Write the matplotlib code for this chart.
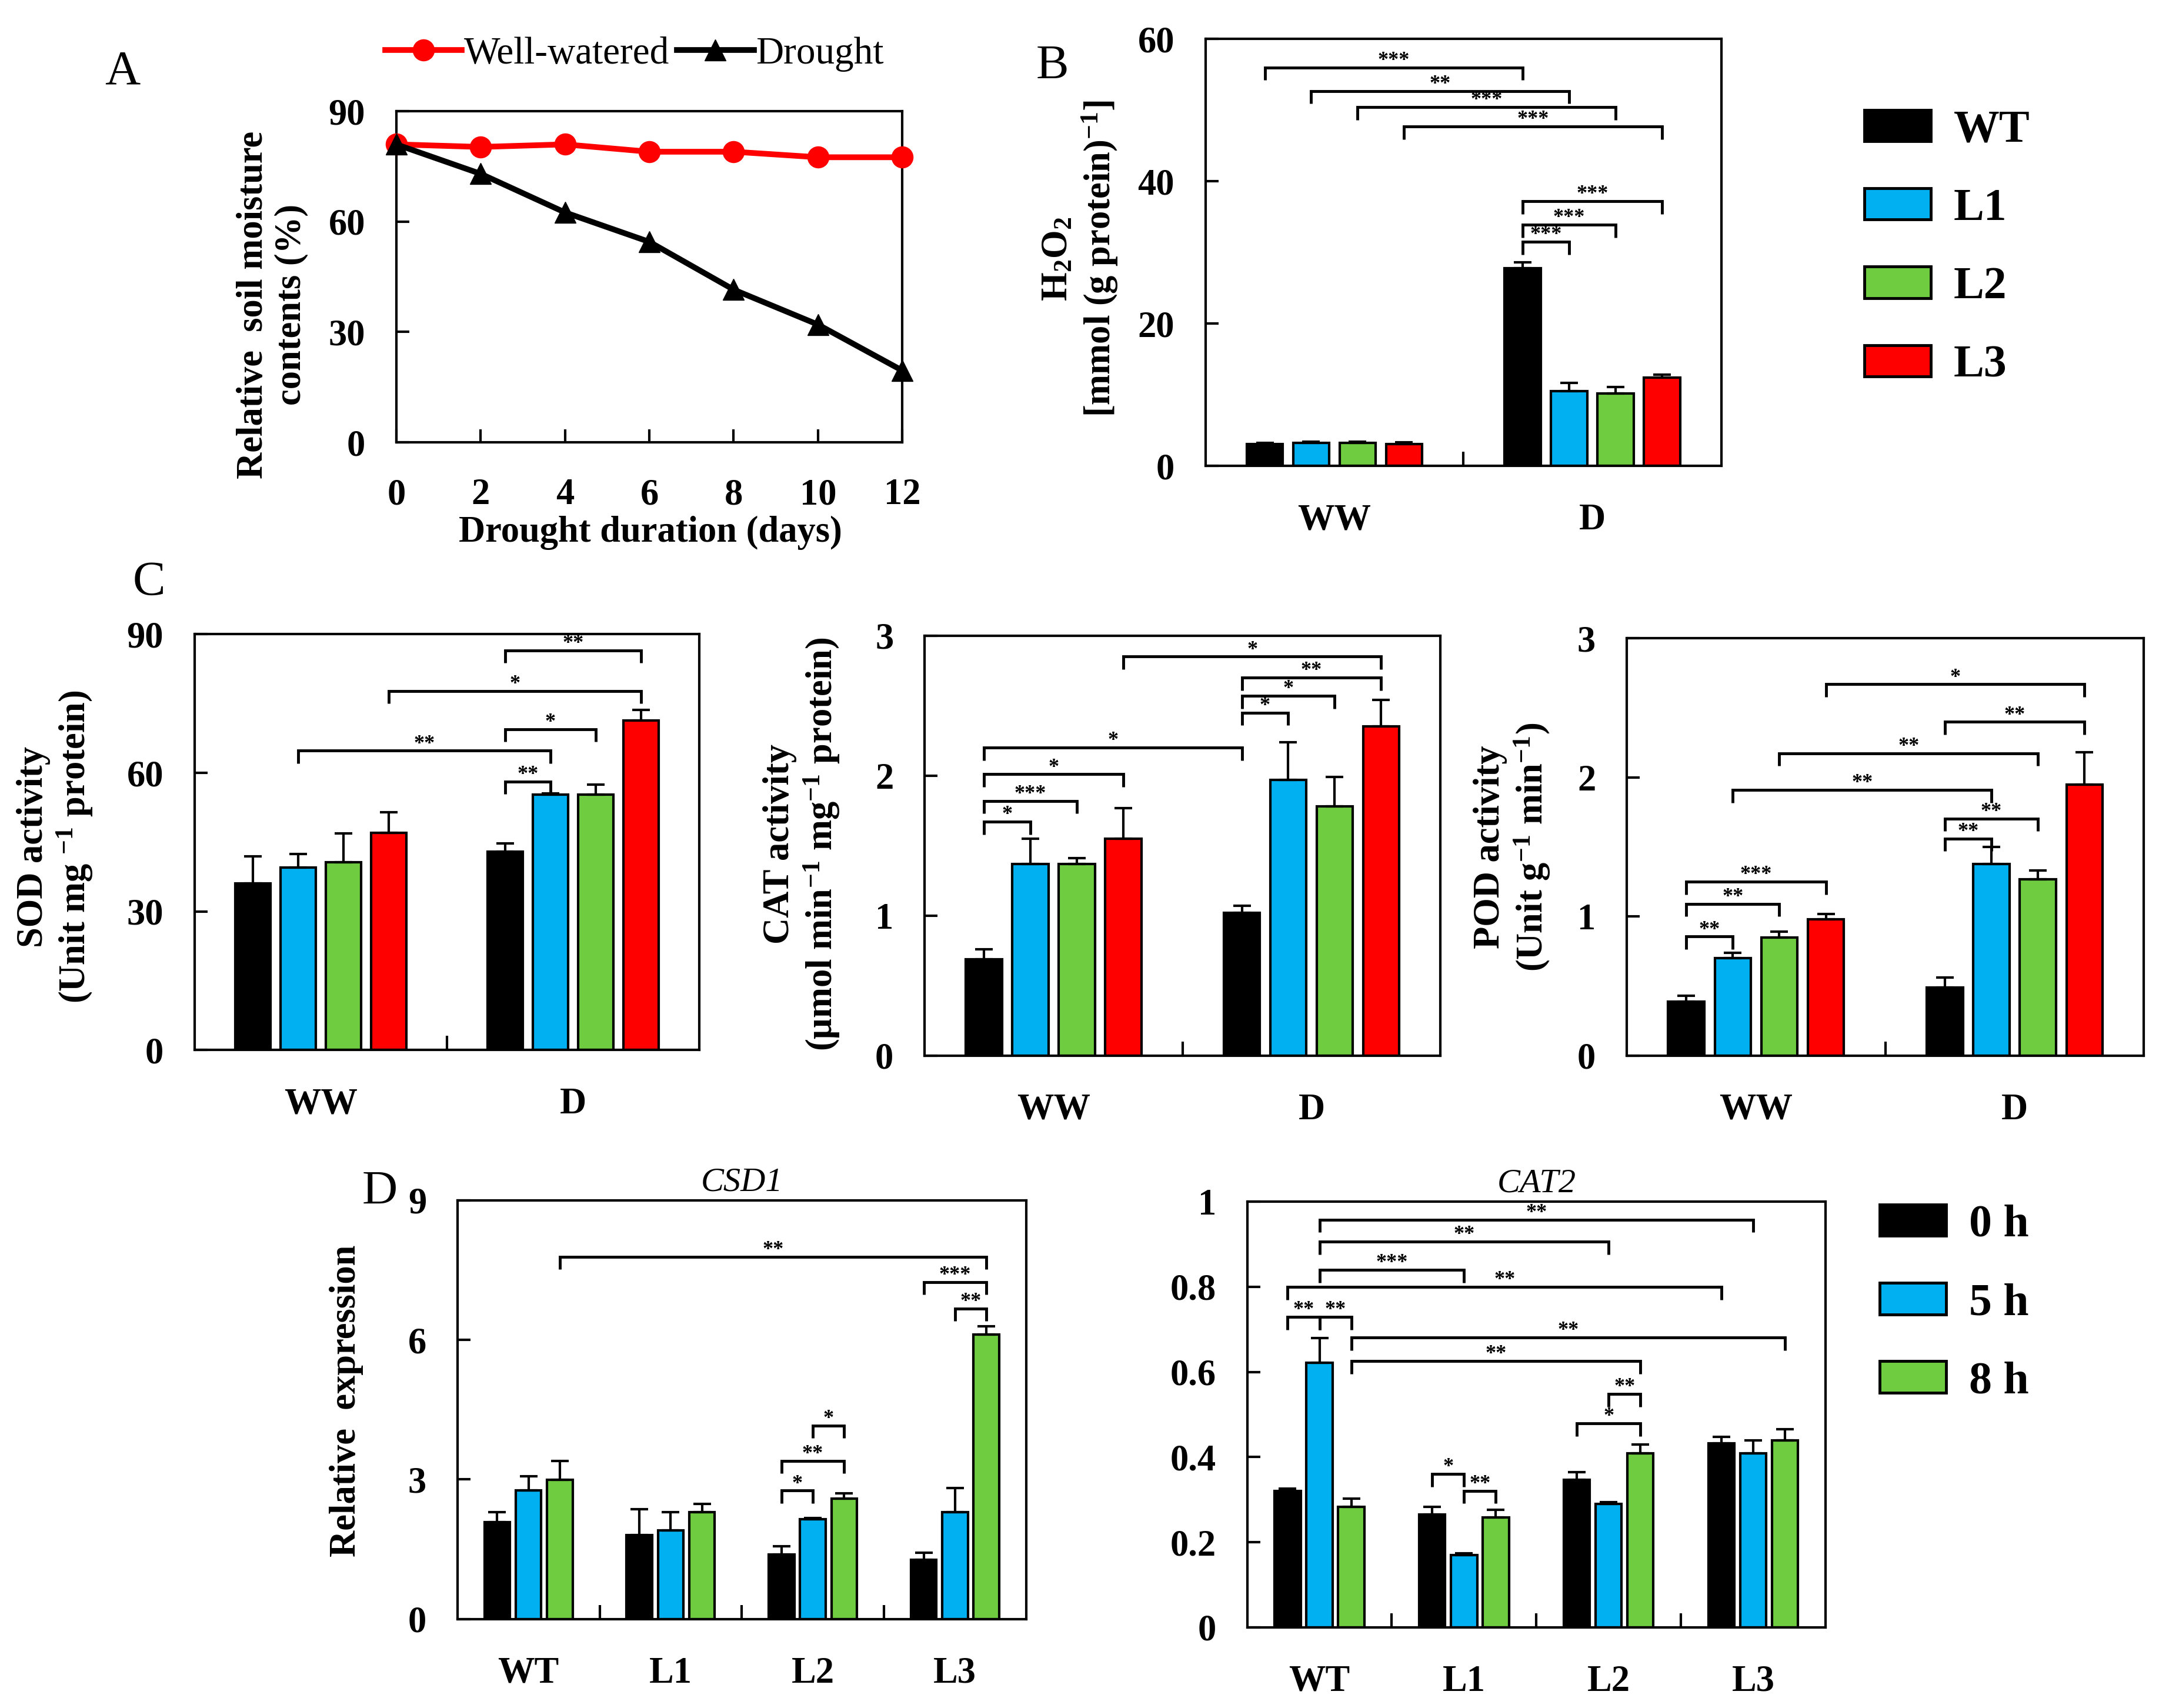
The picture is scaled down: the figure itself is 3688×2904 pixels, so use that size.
import numpy as np
import matplotlib
matplotlib.use('Agg')
import matplotlib.pyplot as plt
from matplotlib.patches import Patch
from matplotlib.ticker import FuncFormatter

plt.rcParams['font.family'] = ['Liberation Serif', 'DejaVu Serif']
plt.rcParams['font.weight'] = 'bold'
plt.rcParams['mathtext.fontset'] = 'custom'
plt.rcParams['mathtext.rm'] = 'Liberation Serif:bold'
plt.rcParams['mathtext.it'] = 'Liberation Serif:italic:bold'
plt.rcParams['mathtext.bf'] = 'Liberation Serif:bold'
plt.rcParams['mathtext.default'] = 'rm'
plt.rcParams['axes.linewidth'] = 3

# ---------------- data ----------------
days = [0, 2, 4, 6, 8, 10, 12]
rsmc_well_watered = [81.0, 80.3, 81.0, 79.0, 79.0, 77.5, 77.5]
rsmc_drought = [81.0, 73.0, 62.5, 54.5, 41.5, 32.0, 19.5]

treatments = ['WW', 'D']
lines = ['WT', 'L1', 'L2', 'L3']
line_colors = ['#000000', '#00B0F0', '#6FCC40', '#FF0000']

h2o2_mean = [[3.1, 3.2, 3.2, 3.1], [27.8, 10.5, 10.2, 12.4]]
h2o2_err = [[0.15, 0.2, 0.2, 0.2], [0.8, 1.2, 0.9, 0.4]]
sod_mean = [[36.1, 39.5, 40.7, 47.0], [43.0, 55.3, 55.3, 71.3]]
sod_err = [[5.8, 2.9, 6.2, 4.5], [1.7, 0.3, 2.1, 2.3]]
cat_mean = [[0.69, 1.37, 1.37, 1.55], [1.02, 1.97, 1.78, 2.35]]
cat_err = [[0.07, 0.18, 0.04, 0.22], [0.05, 0.27, 0.21, 0.19]]
pod_mean = [[0.39, 0.70, 0.85, 0.98], [0.49, 1.38, 1.27, 1.95]]
pod_err = [[0.04, 0.04, 0.04, 0.04], [0.07, 0.12, 0.06, 0.23]]

genotypes = ['WT', 'L1', 'L2', 'L3']
times = ['0 h', '5 h', '8 h']
time_colors = ['#000000', '#00B0F0', '#6FCC40']
csd1_mean = [[2.08, 2.77, 2.99], [1.80, 1.90, 2.30], [1.39, 2.14, 2.59], [1.27, 2.30, 6.11]]
csd1_err = [[0.22, 0.30, 0.41], [0.56, 0.40, 0.17], [0.17, 0.03, 0.11], [0.16, 0.52, 0.18]]
cat2_mean = [[0.321, 0.622, 0.283], [0.265, 0.170, 0.258], [0.346, 0.290, 0.409], [0.433, 0.409, 0.439]]
cat2_err = [[0.005, 0.057, 0.020], [0.018, 0.004, 0.018], [0.018, 0.004, 0.020], [0.014, 0.030, 0.027]]

# significance brackets: (bar_i, bar_j, height, label); bars numbered group-major
h2o2_sig = [(0, 4, 56.0, '***'), (1, 5, 52.7, '**'), (2, 6, 50.4, '***'), (3, 7, 47.7, '***'),
            (4, 5, 31.5, '***'), (4, 6, 33.9, '***'), (4, 7, 37.2, '***')]
sod_sig = [(4, 5, 58.1, '**'), (1, 5, 64.8, '**'), (4, 6, 69.4, '*'), (3, 7, 77.7, '*'), (4, 7, 86.5, '**')]
cat_sig = [(0, 1, 1.67, '*'), (0, 2, 1.82, '***'), (0, 3, 2.01, '*'), (0, 4, 2.20, '*'),
           (4, 5, 2.45, '*'), (4, 6, 2.57, '*'), (4, 7, 2.70, '**'), (3, 7, 2.85, '*')]
pod_sig = [(0, 1, 0.856, '**'), (0, 2, 1.09, '**'), (0, 3, 1.25, '***'), (4, 5, 1.56, '**'),
           (4, 6, 1.705, '**'), (1, 5, 1.91, '**'), (2, 6, 2.175, '**'), (4, 7, 2.40, '**'), (3, 7, 2.67, '*')]
csd1_sig = [(6, 7, 2.76, '*'), (6, 8, 3.40, '**'), (7, 8, 4.16, '*'), (10, 11, 6.67, '**'),
            (9, 11, 7.24, '***'), (2, 11, 7.79, '**')]
cat2_sig = [(0, 1, 0.729, '**'), (1, 2, 0.729, '**'), (0, 9, 0.80, '**'), (1, 4, 0.84, '***'),
            (1, 7, 0.906, '**'), (1, 10, 0.958, '**'), (2, 8, 0.626, '**'), (2, 11, 0.681, '**'),
            (3, 4, 0.36, '*'), (4, 5, 0.321, '**'), (6, 8, 0.479, '*'), (7, 8, 0.548, '**')]

# ---------------- layout helpers ----------------
W, H = 1560.0, 1228.0
fig = plt.figure(figsize=(36.88, 29.04), dpi=100)
fig.patch.set_facecolor('white')


def rect(x0, y0, x1, y1):
    return [x0 / W, 1 - y1 / H, (x1 - x0) / W, (y1 - y0) / H]


def fx(x):
    return x / W


def fy(y):
    return 1 - y / H


TICK_FS = 45
STAR_FS = 26


def style_y(ax, ticks, fmt=None):
    ax.set_yticks(ticks)
    if fmt is not None:
        ax.yaxis.set_major_formatter(FuncFormatter(fmt))
    ax.tick_params(axis='y', direction='in', length=16, width=3, labelsize=TICK_FS, pad=38)


def bar_panel(r, means, errs, cats, colors, step, width, ylim, yticks, sig, fmt=None):
    ax = fig.add_axes(r)
    m = np.array(means)
    e = np.array(errs)
    ng, ns = m.shape
    xg = np.arange(ng)
    pos = np.zeros((ng, ns))
    for s in range(ns):
        x = xg + (s - (ns - 1) / 2) * step
        pos[:, s] = x
        ax.bar(x, m[:, s], width, color=colors[s], edgecolor='black', linewidth=3, zorder=2)
        ax.errorbar(x, m[:, s], yerr=[np.zeros(ng), e[:, s]], fmt='none', ecolor='black',
                    elinewidth=3, capsize=11, capthick=3, zorder=3)
    ax.set_xlim(-0.5, ng - 0.5)
    ax.set_ylim(*ylim)
    style_y(ax, yticks, fmt)
    ax.set_xticks(xg)
    ax.set_xticklabels(cats)
    ax.set_xticks(xg[:-1] + 0.5, minor=True)
    ax.tick_params(axis='x', which='major', length=0, labelsize=TICK_FS, pad=46)
    ax.tick_params(axis='x', which='minor', direction='in', length=17, width=3)
    flat = pos.ravel()
    leg = 0.03 * (ylim[1] - ylim[0])
    for i, j, y, lab in sig:
        x1, x2 = flat[i], flat[j]
        ax.plot([x1, x1, x2, x2], [y - leg, y, y, y - leg], color='black', lw=3.5,
                solid_joinstyle='miter', solid_capstyle='butt', zorder=4, clip_on=False)
        ax.text((x1 + x2) / 2, y + 0.004 * (ylim[1] - ylim[0]), lab, ha='center', va='baseline',
                fontsize=STAR_FS, fontweight='bold', zorder=5)
    return ax


def ylabel(x, y, s):
    fig.text(fx(x), fy(y), s, rotation=90, ha='center', va='center', multialignment='center',
             fontsize=45, fontweight='bold', linespacing=1.15)


def letter(x, y, s):
    fig.text(fx(x), fy(y), s, ha='center', va='center', fontsize=60, fontweight='normal')


# ---------------- Panel A ----------------
axA = fig.add_axes(rect(285, 80, 649, 318))
axA.plot(days, rsmc_well_watered, '-o', color='#FF0000', lw=7, ms=26, clip_on=False, zorder=3,
         label='Well-watered')
axA.plot(days, rsmc_drought, '-^', color='black', lw=7, ms=26, clip_on=False, zorder=4,
         label='Drought')
axA.set_xlim(0, 12)
axA.set_ylim(0, 90)
axA.set_xticks(days)
style_y(axA, [0, 30, 60, 90])
axA.tick_params(axis='x', direction='in', length=16, width=3, labelsize=TICK_FS, pad=44)
h, l = axA.get_legend_handles_labels()
fig.legend(h, l, ncol=2, loc='center left', bbox_to_anchor=(fx(277), fy(39)), frameon=False,
           prop=dict(size=47, weight='normal'), handlelength=2.0, handletextpad=0.05,
           columnspacing=0.2, borderpad=0, borderaxespad=0)
ylabel(196, 219, 'Relative  soil moisture\ncontents (%)')
fig.text(fx(468), fy(383), 'Drought duration (days)', ha='center', va='center', fontsize=45,
         fontweight='bold')
letter(88, 52, 'A')

# ---------------- Panel B ----------------
bar_panel(rect(867, 28, 1238, 335), h2o2_mean, h2o2_err, treatments, line_colors, 0.18, 0.14,
          (0, 60), [0, 20, 40, 60], h2o2_sig)
ylabel(777, 186, 'H$_2$O$_2$\n[mmol (g protein)$^{-1}$]')
letter(757, 48, 'B')
fig.legend([Patch(facecolor=c, edgecolor='black', linewidth=3.5) for c in line_colors], lines,
           loc='upper left', bbox_to_anchor=(fx(1341), fy(79)), frameon=False,
           prop=dict(size=56, weight='bold'), handlelength=1.45, handleheight=0.68,
           handletextpad=0.5, labelspacing=0.8, borderpad=0, borderaxespad=0)

# ---------------- Panel C ----------------
bar_panel(rect(140, 456, 503, 755), sod_mean, sod_err, treatments, line_colors, 0.18, 0.14,
          (0, 90), [0, 30, 60, 90], sod_sig)
ylabel(40, 609, 'SOD activity\n(Unit mg $^{-1}$ protein)')
letter(107, 419, 'C')

bar_panel(rect(665, 457, 1036, 759), cat_mean, cat_err, treatments, line_colors, 0.18, 0.14,
          (0, 3), [0, 1, 2, 3], cat_sig)
ylabel(577, 607, 'CAT activity\n(\u03bcmol min$^{-1}$ mg$^{-1}$ protein)')

bar_panel(rect(1170, 459, 1542, 759), pod_mean, pod_err, treatments, line_colors, 0.18, 0.14,
          (0, 3), [0, 1, 2, 3], pod_sig)
ylabel(1088, 609, 'POD activity\n(Unit g$^{-1}$ min$^{-1}$)')

# ---------------- Panel D ----------------
axC1 = bar_panel(rect(329, 863, 738, 1164), csd1_mean, csd1_err, genotypes, time_colors, 0.22, 0.18,
                 (0, 9), [0, 3, 6, 9], csd1_sig)
axC1.set_title('CSD1', fontsize=42, fontstyle='italic', fontweight='normal', pad=12)
ylabel(249, 1007, 'Relative  expression')
letter(273, 857, 'D')

axC2 = bar_panel(rect(897, 864, 1313, 1170), cat2_mean, cat2_err, genotypes, time_colors, 0.22, 0.18,
                 (0, 1), [0, 0.2, 0.4, 0.6, 0.8, 1.0], cat2_sig, fmt=lambda v, p: f'{v:g}')
axC2.set_title('CAT2', fontsize=42, fontstyle='italic', fontweight='normal', pad=12)
fig.legend([Patch(facecolor=c, edgecolor='black', linewidth=3.5) for c in time_colors], times,
           loc='upper left', bbox_to_anchor=(fx(1352), fy(866)), frameon=False,
           prop=dict(size=56, weight='bold'), handlelength=1.45, handleheight=0.68,
           handletextpad=0.5, labelspacing=0.8, borderpad=0, borderaxespad=0)

fig.savefig('out.png', dpi=100, facecolor='white')
